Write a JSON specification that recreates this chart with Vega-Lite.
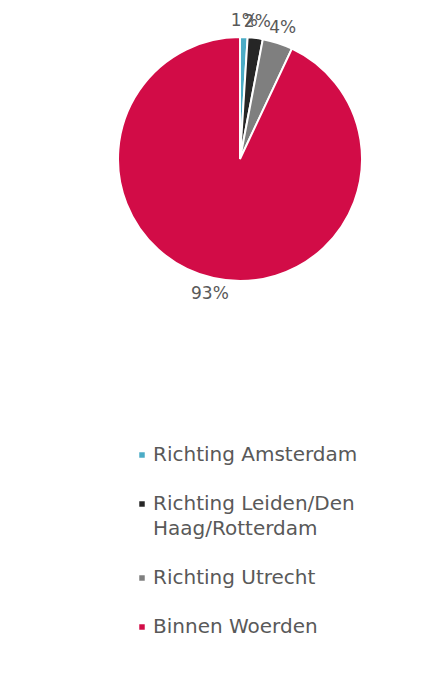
{
  "$schema": "https://vega.github.io/schema/vega-lite/v6.json",
  "autosize": "none",
  "width": 280,
  "height": 244,
  "padding": {"left": 100, "top": 37, "right": 63, "bottom": 408},
  "background": "white",
  "config": {"view": {"stroke": null}, "font": "DejaVu Sans", "style": {"guide-label": {"lineHeight": 25}}},
  "data": {
    "values": [
      {"richting": "Richting Amsterdam", "share": 0.01},
      {"richting": "Richting Leiden/Den Haag/Rotterdam", "share": 0.02},
      {"richting": "Richting Utrecht", "share": 0.04},
      {"richting": "Binnen Woerden", "share": 0.93}
    ]
  },
  "encoding": {
    "theta": {"field": "share", "type": "quantitative", "stack": true},
    "color": {
      "field": "richting",
      "type": "nominal",
      "sort": ["Richting Amsterdam", "Richting Leiden/Den Haag/Rotterdam", "Richting Utrecht", "Binnen Woerden"],
      "scale": {
        "domain": ["Richting Amsterdam", "Richting Leiden/Den Haag/Rotterdam", "Richting Utrecht", "Binnen Woerden"],
        "range": ["#4bacc6", "#262626", "#7f7f7f", "#d20c47"]
      },
      "legend": {
        "title": null,
        "orient": "none",
        "legendX": 32,
        "legendY": 408,
        "padding": 0,
        "symbolType": "square",
        "symbolSize": 30,
        "symbolStrokeWidth": 0,
        "labelFontSize": 20,
        "labelColor": "#595959",
        "labelOffset": 1,
        "labelLimit": 400,
        "rowPadding": 29,
        "labelExpr": "datum.label == 'Richting Leiden/Den Haag/Rotterdam' ? ['Richting Leiden/Den', 'Haag/Rotterdam'] : datum.label"
      }
    },
    "order": {"field": "share", "sort": "ascending"}
  },
  "layer": [
    {
      "mark": {"type": "arc", "outerRadius": 122, "stroke": "white", "strokeWidth": 2}
    },
    {
      "mark": {"type": "text", "radius": 138, "fontSize": 17, "fill": "#595959", "font": "DejaVu Sans"},
      "encoding": {
        "text": {"field": "share", "type": "quantitative", "format": ".0%"},
        "color": {"value": "#595959"}
      }
    }
  ]
}
